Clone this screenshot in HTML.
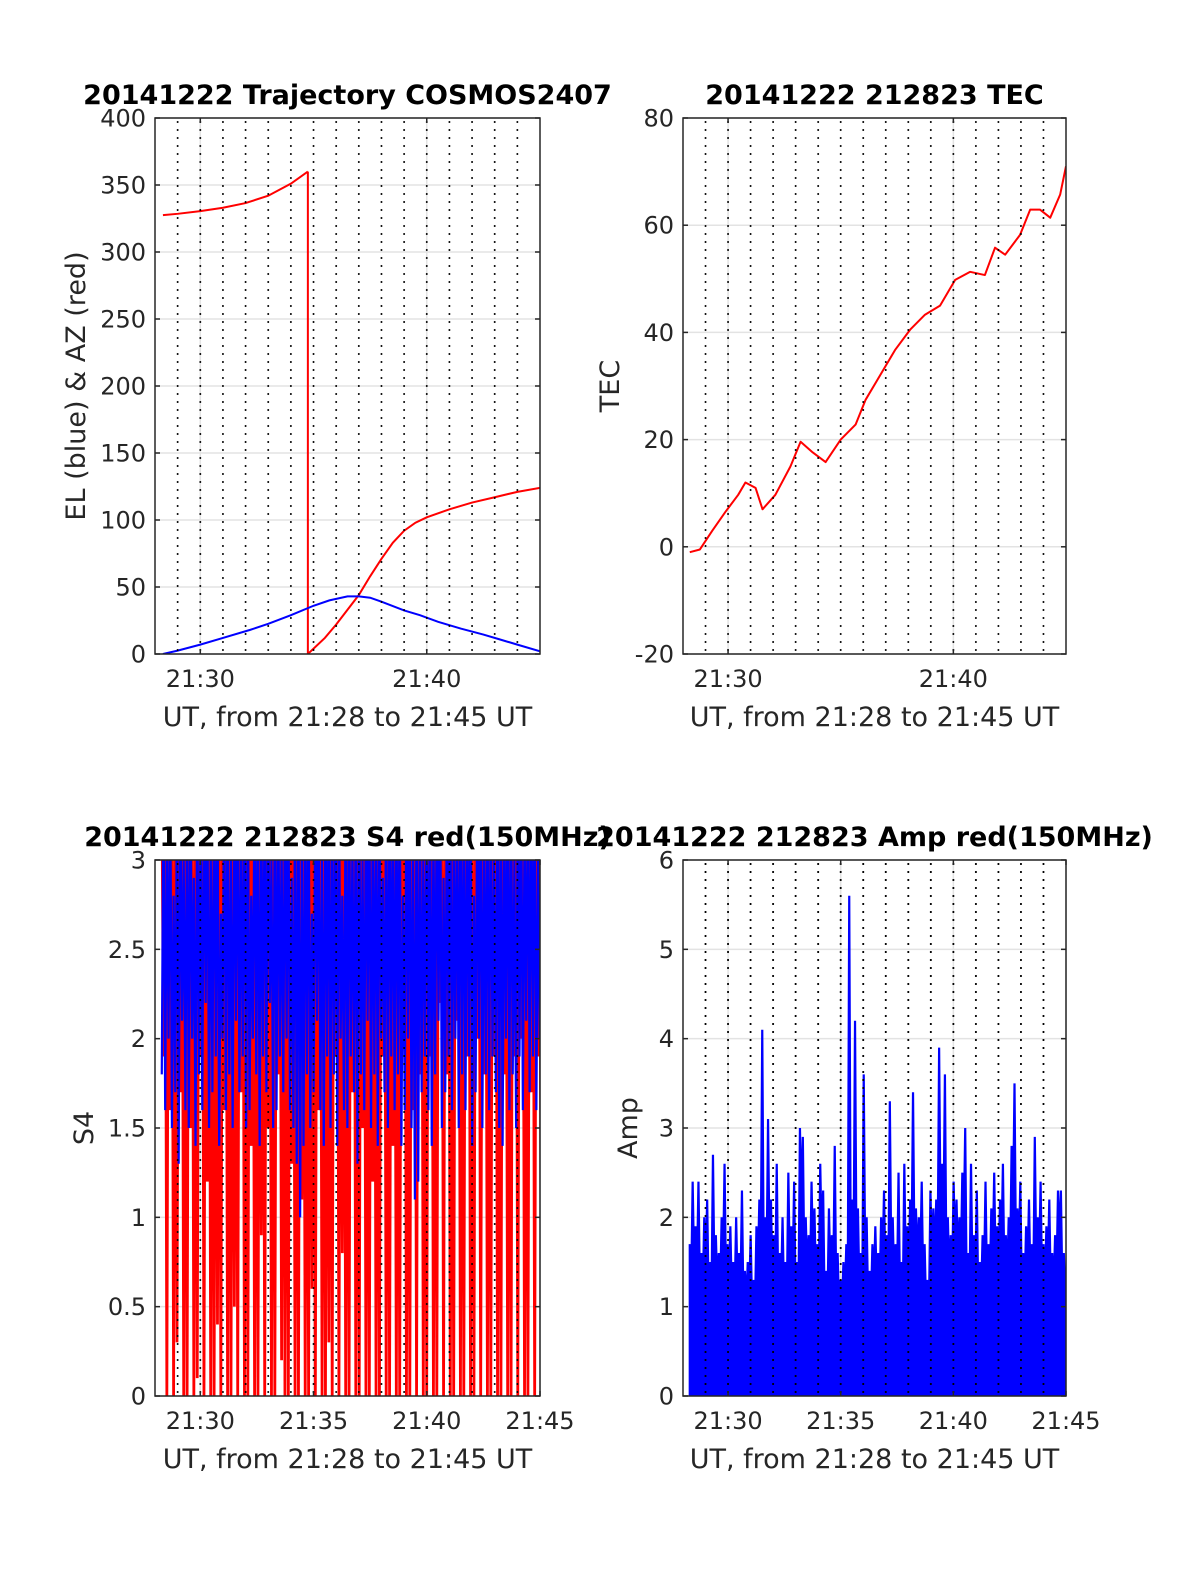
<!DOCTYPE html>
<html><head><meta charset="utf-8">
<style>
body{margin:0;background:#fff;}
svg{display:block;font-family:"DejaVu Sans","Liberation Sans",sans-serif;}
.tk{font-size:24px;fill:#262626;}
.lb{font-size:27px;fill:#262626;}
.ttl{font-size:27px;font-weight:bold;fill:#000;}
</style></head>
<body>
<svg id="fig" width="1200" height="1575" viewBox="0 0 1200 1575" xmlns="http://www.w3.org/2000/svg"></svg>
<script>
// ---- data (time in minutes since 21:28) ----
const azT1 = [0.35,1,2,3,4,5,6,6.75];
const azV1 = [327.5,328.5,330.5,333,336.5,342,351,360];
const azT2 = [6.75,7.5,8,8.5,9,9.5,10,10.5,11,11.5,12,13,14,15,16,17];
const azV2 = [0,12,22,33,44,58,71,83,92,98,102,108,113,117,121,124];
const elT = [0.35,1,2,3,4.2,5,6,7,7.7,8.5,9,9.5,10,11,11.7,12.5,13.5,14.5,15.2,16,17];
const elV = [0,2.5,7,12,18,22.5,29,36,40,43,43,42,39,32.5,29,24,19,14.5,11,7,2];
const tecT = [0.3,0.75,1.3,1.88,2.45,2.77,3.22,3.53,4.1,4.77,5.22,5.76,6.33,7,7.66,8.1,8.75,9.41,10.08,10.74,11.41,12.08,12.74,13.4,13.85,14.3,14.96,15.41,15.85,16.3,16.74,17];
const tecV = [-1,-0.5,3,6.5,9.7,12,11,7,9.7,15,19.6,17.6,15.8,20,22.8,27.4,32,36.7,40.5,43.3,45,49.8,51.3,50.7,55.8,54.5,58.2,62.9,62.9,61.4,65.7,71];
const ampT0 = 0.3, ampDt = 0.1287;
const ampV = [1.7,2.4,1.9,2.4,1.6,2.0,2.2,1.5,2.7,1.8,
1.6,2.0,2.6,1.7,1.9,1.5,2.0,1.6,2.3,1.4,
1.5,1.8,1.3,1.9,2.2,4.1,2.0,3.1,2.2,1.8,
2.6,1.6,2.0,1.5,2.5,1.9,2.4,1.5,3.0,2.9,
2.0,1.8,2.4,2.1,1.7,2.6,2.3,1.4,2.1,1.8,
2.8,1.6,1.3,1.5,1.7,5.6,2.2,4.2,2.1,1.6,
3.6,2.0,1.4,1.7,1.9,1.6,2.0,2.3,1.8,3.3,
2.0,1.7,2.5,1.5,2.6,1.9,2.2,3.4,2.1,2.0,
2.4,1.7,1.3,2.3,2.1,2.2,3.9,2.6,3.6,2.0,
1.8,2.4,2.2,2.0,2.5,3.0,1.6,2.6,1.8,2.3,
1.5,1.8,2.4,1.7,2.1,2.5,1.9,2.2,2.6,1.8,
2.0,2.8,3.5,2.1,2.4,1.6,1.9,2.2,1.7,2.9,
2.0,2.4,1.7,1.9,2.2,1.6,1.8,2.3,2.3,1.6];
const s4T0 = 0.3, s4Dt = 0.0745;
const s4Red = [3.5,1.9,3.5,0,3.5,1.6,3.5,0,3.5,0.3,3.5,1.7,3.5,0,3.5,0,3.5,1.5,3.5,0,
3.5,0.1,3.5,1.9,3.5,0,3.5,1.2,3.5,0,3.5,0,3.5,0.4,3.5,0,3.5,1.6,3.5,0,
3.5,0,3.5,0.5,3.5,0,3.5,1.7,3.5,0,3.5,0,3.5,1.4,3.5,0,3.5,0,3.5,0.9,
3.5,0,3.5,1.5,3.5,0,3.5,0,3.5,1.8,3.5,0.2,3.5,0,3.5,0,3.5,1.3,3.5,0,
3.5,0,3.5,1.1,3.5,0,3.5,0,3.5,0.6,3.5,0,3.5,1.6,3.5,0,3.5,0,3.5,0.3,
3.5,0,3.5,1.9,3.5,0,3.5,0.8,3.5,0,3.5,0,3.5,1.7,3.5,0,3.5,0,3.5,1.5,
3.5,0,3.5,0,3.5,1.2,3.5,0,3.5,0,3.5,1.9,3.5,0,3.5,0,3.5,1.4,3.5,0,
3.5,0,3.5,2.0,3.5,0,3.5,0,3.5,1.6,3.5,0,3.5,1.8,3.5,0,3.5,0,3.5,1.9,
3.5,0,3.5,0,3.5,2.2,3.5,0,3.5,1.8,3.5,0,3.5,0,3.5,2.1,3.5,0,3.5,0,
3.5,1.9,3.5,0,3.5,0,3.5,2.0,3.5,0,3.5,1.8,3.5,0,3.5,0,3.5,1.9,3.5,0,
3.5,0,3.5,1.8,3.5,0,3.5,0,3.5,1.9,3.5,0,3.5,2.0,3.5,0,3.5,0,3.5,1.7,
3.5,0,3.5,1.9,3.5,0,3.5,0,3.5,1.8,3.5,0.1,3.5,2.1,3.5,1.9];
const s4Blue = [1.8,3.5,1.6,3.2,2.0,3.5,1.5,2.8,1.7,3.5,1.3,3.5,2.1,3.0,1.6,3.5,1.5,3.5,2.0,2.9,
1.4,3.5,1.8,3.3,1.6,3.5,2.2,3.5,1.5,3.1,1.7,3.5,1.9,3.5,1.4,2.7,2.0,3.5,1.6,3.5,
1.8,3.0,1.5,3.5,2.1,3.5,1.7,3.2,1.9,3.5,1.5,3.5,1.6,2.8,2.0,3.5,1.8,3.5,1.4,3.3,
1.9,3.5,1.7,3.5,2.2,3.0,1.5,3.5,1.6,3.5,1.9,3.1,1.7,3.5,2.0,3.5,1.6,2.9,1.5,3.5,
1.3,3.5,1.0,3.2,1.4,3.5,1.8,3.5,1.5,2.7,1.7,3.5,2.1,3.5,1.6,3.0,1.4,3.5,1.9,3.5,
1.5,3.3,1.8,3.5,1.4,3.5,2.0,2.8,1.6,3.5,1.5,3.5,1.9,3.1,1.7,3.5,1.3,3.5,1.8,3.0,
1.6,3.5,2.1,3.5,1.5,3.2,1.8,3.5,1.4,3.5,2.0,2.9,1.7,3.5,1.5,3.5,1.9,3.3,1.6,3.5,
1.8,3.5,1.4,2.8,1.6,3.5,2.0,3.5,1.5,3.1,1.1,3.5,1.2,3.5,1.7,3.0,1.9,3.5,1.6,3.5,
1.4,3.2,1.8,3.5,2.1,3.5,1.5,2.9,1.7,3.5,1.9,3.5,1.6,3.1,2.0,3.5,1.5,3.5,1.8,3.3,
1.6,3.5,1.9,3.5,1.4,2.8,1.7,3.5,2.0,3.5,1.5,3.2,1.8,3.5,1.6,3.5,1.9,3.0,1.7,3.5,
1.5,3.5,1.4,3.3,2.0,3.5,1.6,3.5,1.8,3.0,1.5,3.5,1.9,3.5,1.6,3.2,2.1,3.5,1.7,3.5,
1.9,3.5,1.6,3.0,2.0,3.5,1.8,3.5,2.2,3.5,1.9,3.5,1.8,2.4];
const yTicks1 = [0,50,100,150,200,250,300,350,400];
const yTicks2 = [-20,0,20,40,60,80];
const yTicks3 = [0,0.5,1,1.5,2,2.5,3];
const yTicks4 = [0,1,2,3,4,5,6];
const xTicksTop = [2,12], xLabTop = ["21:30","21:40"];
const xTicksBot = [2,7,12,17], xLabBot = ["21:30","21:35","21:40","21:45"];

const NS="http://www.w3.org/2000/svg";
const fig=document.getElementById('fig');
function mk(tag,attrs,parent){const e=document.createElementNS(NS,tag);for(const k in attrs)e.setAttribute(k,attrs[k]);(parent||fig).appendChild(e);return e;}

function panel(id,L,T,R,B,ymin,ymax,yTicks,xT,xL,title,ylab){
  const g=mk('g',{});
  
  
  const sx=m=>L+(m/17)*(R-L);
  const sy=v=>B-(v-ymin)/(ymax-ymin)*(B-T);
  const cp=mk('clipPath',{id:'c'+id},g);
  mk('rect',{x:L,y:T,width:R-L,height:B-T},cp);
  yTicks.forEach(v=>{const l=mk('line',{x1:L,x2:R,y1:sy(v),y2:sy(v),stroke:'#e3e3e3','stroke-width':1.5},g);
    
    });
  xT.forEach(m=>{const l=mk('line',{x1:sx(m),x2:sx(m),y1:T,y2:B,stroke:'#e3e3e3','stroke-width':1.5},g);
    
    });
  const plot=mk('g',{'clip-path':'url(#c'+id+')'},g);
  const dots=()=>{for(let m=1;m<=16;m++){const l=mk('line',{x1:sx(m),x2:sx(m),y1:T,y2:B,stroke:'#000','stroke-width':2,'stroke-dasharray':'0 8','stroke-linecap':'round','stroke-dashoffset':-4},g);
    
    }};
  const frame=()=>{const r=mk('rect',{x:L,y:T,width:R-L,height:B-T,fill:'none',stroke:'#262626','stroke-width':1.5},g);
    
    
    yTicks.forEach(v=>{mk('line',{x1:L,x2:L+5,y1:sy(v),y2:sy(v),stroke:'#262626','stroke-width':1.5},g);mk('line',{x1:R-5,x2:R,y1:sy(v),y2:sy(v),stroke:'#262626','stroke-width':1.5},g);
      const t=mk('text',{x:L-9,y:sy(v)+8.5,'text-anchor':'end',class:'tk'},g);t.textContent=String(v);
      
      });
    xT.forEach((m,i)=>{mk('line',{x1:sx(m),x2:sx(m),y1:B-5,y2:B,stroke:'#262626','stroke-width':1.5},g);mk('line',{x1:sx(m),x2:sx(m),y1:T,y2:T+5,stroke:'#262626','stroke-width':1.5},g);
      const t=mk('text',{x:sx(m),y:B+33,'text-anchor':'middle',class:'tk'},g);t.textContent=xL[i];
      
      });
    const tt=mk('text',{x:(L+R)/2,y:T-14,'text-anchor':'middle',class:'ttl'},g);tt.textContent=title;
    
    
    const xl=mk('text',{x:(L+R)/2,y:B+72,'text-anchor':'middle',class:'lb'},g);xl.textContent='UT, from 21:28 to 21:45 UT';
    
    
    const yx=L-ylab[1], yy=(T+B)/2;
    const yl=mk('text',{x:yx,y:yy,'text-anchor':'middle',class:'lb',transform:`rotate(-90 ${yx} ${yy})`},g);yl.textContent=ylab[0];
    
    
  };
  return {g,plot,sx,sy,dots,frame};
}
function pts(ts,vs,sx,sy){return ts.map((t,i)=>sx(t).toFixed(2)+','+sy(vs[i]).toFixed(2)).join(' ');}

// Panel 1
const p1=panel('trajectory-panel',155,118,540,654,0,400,yTicks1,xTicksTop,xLabTop,'20141222 Trajectory COSMOS2407',['EL (blue) & AZ (red)',70]);
p1.dots();
let e=mk('polyline',{points:pts(azT1,azV1,p1.sx,p1.sy),fill:'none',stroke:'#f00','stroke-width':2},p1.plot);


e=mk('line',{x1:p1.sx(azT1[azT1.length-1]),x2:p1.sx(azT2[0]),y1:p1.sy(azV1[azV1.length-1]),y2:p1.sy(azV2[0]),stroke:'#f00','stroke-width':2},p1.plot);


e=mk('polyline',{points:pts(azT2,azV2,p1.sx,p1.sy),fill:'none',stroke:'#f00','stroke-width':2},p1.plot);


e=mk('polyline',{points:pts(elT,elV,p1.sx,p1.sy),fill:'none',stroke:'#00f','stroke-width':2},p1.plot);


p1.frame();

// Panel 2
const p2=panel('tec-panel',683,118,1066,654,-20,80,yTicks2,xTicksTop,xLabTop,'20141222 212823 TEC',['TEC',64]);
p2.dots();
e=mk('polyline',{points:pts(tecT,tecV,p2.sx,p2.sy),fill:'none',stroke:'#f00','stroke-width':2,'stroke-linejoin':'round'},p2.plot);


p2.frame();

// Panel 3
const p3=panel('s4-panel',155,860,540,1396,0,3,yTicks3,xTicksBot,xLabBot,'20141222 212823 S4 red(150MHz)',['S4',62]);
const s4Ts=s4Red.map((v,i)=>s4T0+i*s4Dt);
e=mk('polyline',{points:pts(s4Ts,s4Red,p3.sx,p3.sy),fill:'none',stroke:'#f00','stroke-width':2.8},p3.plot);


const s4Tb=s4Blue.map((v,i)=>s4T0+i*s4Dt);
e=mk('polyline',{points:pts(s4Tb,s4Blue,p3.sx,p3.sy),fill:'none',stroke:'#00f','stroke-width':2.2},p3.plot);


p3.dots();
p3.frame();

// Panel 4
const p4=panel('amp-panel',683,860,1066,1396,0,6,yTicks4,xTicksBot,xLabBot,'20141222 212823 Amp red(150MHz)',['Amp',46]);
p4.dots();
let d=`M${p4.sx(ampT0).toFixed(2)},${p4.sy(0)}`;
ampV.forEach((v,i)=>{
  const t=ampT0+i*ampDt;
  const nb=i<ampV.length-1?ampV[i+1]:v;
  const valley=Math.min(v,nb)*0.75;
  d+=` L${p4.sx(t).toFixed(2)},${p4.sy(v).toFixed(2)} L${p4.sx(t+ampDt/2).toFixed(2)},${p4.sy(valley).toFixed(2)}`;
});
d+=` L${p4.sx(ampT0+(ampV.length-1)*ampDt+ampDt/2).toFixed(2)},${p4.sy(0)} Z`;
e=mk('path',{d:d,fill:'#00f',stroke:'#00f','stroke-width':2.2,'stroke-linejoin':'miter'},p4.plot);


p4.dots();
p4.frame();
</script>
</body></html>
